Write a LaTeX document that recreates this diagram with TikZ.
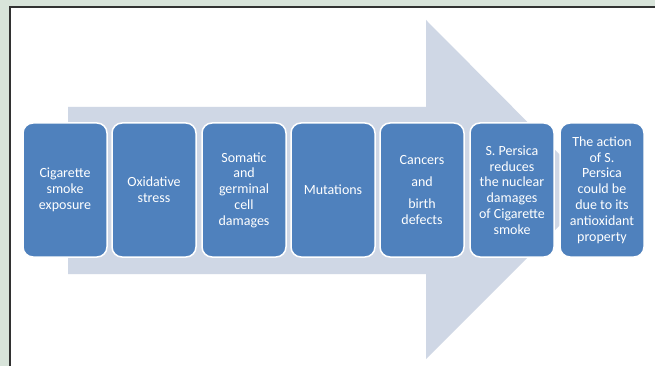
\documentclass[tikz,border=0pt]{standalone}
\usepackage{fontspec}
\setmainfont{Carlito}
\definecolor{bgcol}{RGB}{216,228,218}
\definecolor{arrowcol}{RGB}{207,215,229}
\definecolor{boxcol}{RGB}{79,129,189}
\definecolor{framecol}{RGB}{50,50,50}
\begin{document}
\begin{tikzpicture}[x=1pt,y=-1pt,
  stepbox/.style={draw=white,line width=1.5pt,fill=boxcol,rounded corners=10pt,
    minimum width=84pt,minimum height=134pt,inner sep=0pt,align=center,
    text=white,font=\fontsize{14}{15.8}\selectfont}]
\useasboundingbox (0,0) rectangle (655,366);
\fill[bgcol] (0,0) rectangle (655,366);
\fill[white] (10,7) rectangle (655,366);
\draw[framecol,line width=1.2pt] (10,366) -- (10,7) -- (655,7);
\fill[arrowcol] (68,107) -- (426,107) -- (426,20) -- (595,190) -- (426,359) -- (426,274) -- (68,274) -- cycle;
\node[stepbox] (b1) at (65,190) {Cigarette\\smoke\\exposure};
\node[stepbox] (b2) at (154,190) {Oxidative\\stress};
\node[stepbox] (b3) at (244,190) {Somatic\\and\\germinal\\cell\\damages};
\node[stepbox] (b4) at (333,190) {Mutations};
\node[stepbox] (b5) at (422,190) {Cancers\\[6pt]and\\[6pt]birth\\defects};
\node[stepbox] (b6) at (512,190) {S. Persica\\reduces\\the nuclear\\damages\\of Cigarette\\smoke};
\node[stepbox] (b7) at (602,190) {The action\\of S.\\Persica\\could be\\due to its\\antioxidant\\property};
\end{tikzpicture}
\end{document}
